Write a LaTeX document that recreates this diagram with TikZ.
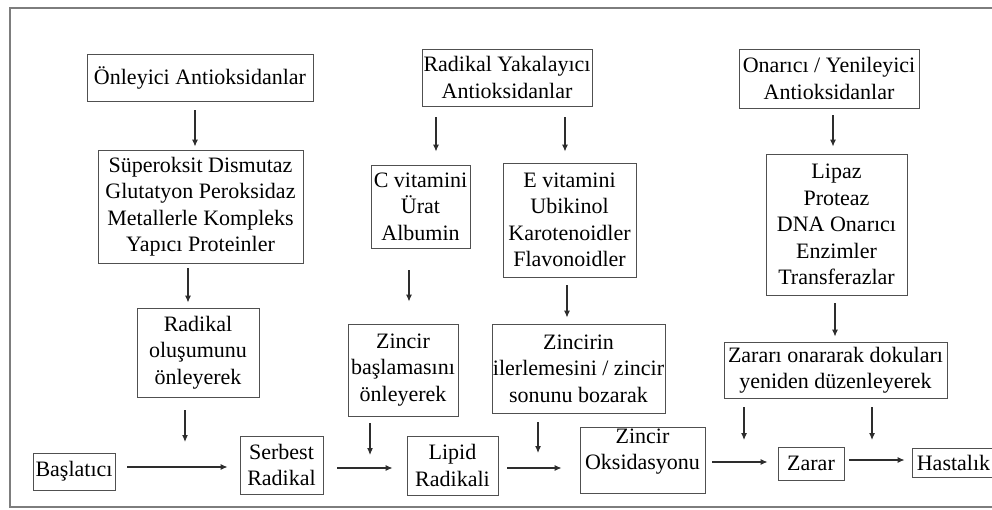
\documentclass[tikz,border=0pt]{standalone}
\usepackage{fontspec}
\setmainfont{Liberation Serif}
\usepackage{tikz}
\usetikzlibrary{arrows.meta}
\definecolor{boxgray}{RGB}{80,80,80}
\definecolor{arrgray}{RGB}{45,45,45}
\definecolor{framegray}{RGB}{125,125,125}
\newcommand{\boxfont}{\fontsize{22}{26.5}\selectfont}
\tikzset{
  stepbox/.style={draw=boxgray,line width=0.9pt,align=center,inner sep=1pt,font=\boxfont},
  arr/.style={-{Latex[length=7pt,width=6pt]},line width=1.1pt,draw=arrgray},
  outerframe/.style={line width=1.8pt,draw=framegray}
}

\begin{document}
\begin{tikzpicture}[x=1pt,y=-1pt]
\useasboundingbox (0,0) rectangle (992,509);

\draw[outerframe] (995,8) -- (10,8) -- (10,507) -- (995,507);

% antioxidant groups
\node[stepbox,minimum width=226pt,minimum height=47pt] (onl) at (200,77.5) {Önleyici Antioksidanlar};
\node[stepbox,minimum width=170pt,minimum height=57pt] (ry) at (507,77.5) {Radikal Yakalayıcı\\Antioksidanlar};
\node[stepbox,minimum width=180pt,minimum height=59pt] (oy) at (829,78.5) {Onarıcı / Yenileyici\\Antioksidanlar};

% members
\node[stepbox,minimum width=205pt,minimum height=113pt] (sod) at (200.5,206.5)
  {Süperoksit Dismutaz\\Glutatyon Peroksidaz\\Metallerle Kompleks\\Yapıcı Proteinler};
\node[stepbox,minimum width=99pt,minimum height=83pt] (cv) at (420.5,206.5) {C vitamini\\Ürat\\Albumin};
\node[stepbox,minimum width=133pt,minimum height=114pt] (ev) at (569.5,220)
  {E vitamini\\Ubikinol\\Karotenoidler\\Flavonoidler};
\node[stepbox,minimum width=141pt,minimum height=141pt] (lp) at (836.5,224.5)
  {Lipaz\\Proteaz\\DNA Onarıcı\\Enzimler\\Transferazlar};

% modes of action
\node[stepbox,minimum width=122pt,minimum height=89pt] (ro) at (198,352.5) {Radikal\\oluşumunu\\önleyerek};
\node[stepbox,minimum width=110pt,minimum height=92pt] (zb) at (403,370) {Zincir\\başlamasını\\önleyerek};
\node[stepbox,minimum width=173pt,minimum height=89pt,inner xsep=0pt] (zi) at (578.5,368.5)
  {Zincirin\\ilerlemesini / zincir\\sonunu bozarak};
\node[stepbox,minimum width=223pt,minimum height=56pt] (zr) at (835.5,370)
  {Zararı onararak dokuları\\yeniden düzenleyerek};

% main chain
\node[stepbox,minimum width=82pt,minimum height=37pt] (bas) at (74,471.5) {Başlatıcı};
\node[stepbox,minimum width=83pt,minimum height=58pt] (sr) at (281.5,465) {Serbest\\Radikal};
\node[stepbox,minimum width=91pt,minimum height=59pt] (lr) at (452.5,465.5) {Lipid\\Radikali};
\node[stepbox,minimum width=125pt,minimum height=55pt,text depth=23pt] (zo) at (642.5,460.5) {Zincir\\Oksidasyonu};
\node[stepbox,minimum width=66pt,minimum height=33pt] (za) at (811,463.5) {Zarar};
\node[stepbox,minimum width=83pt,minimum height=29pt,inner ysep=0pt] (ha) at (953.5,462.5) {Hastalık};

\coordinate (ro-end) at (185,442);
\coordinate (zb-end) at (370,455);
\coordinate (zi-end) at (538,453);
\coordinate (zr-end1) at (744,440);
\coordinate (zr-end2) at (872,440);

% vertical arrows
\draw[arr,shorten <=9pt,shorten >=3pt] ([xshift=-5pt]onl.south) -- ([xshift=-5pt]onl.south |- sod.north);
\draw[arr,shorten <=5pt,shorten >=5pt] ([xshift=-12.5pt]sod.south) -- ([xshift=-12.5pt]sod.south |- ro.north);
\draw[arr,shorten <=13pt] (ro.south -| ro-end) -- (ro-end);
\draw[arr,shorten <=11pt,shorten >=13pt] ([xshift=-71pt]ry.south) -- ([xshift=-71pt]ry.south |- cv.north);
\draw[arr,shorten <=11pt,shorten >=11pt] ([xshift=58pt]ry.south) -- ([xshift=58pt]ry.south |- ev.north);
\draw[arr,shorten <=22pt,shorten >=22pt] ([xshift=-11.5pt]cv.south) -- ([xshift=-11.5pt]cv.south |- zb.north);
\draw[arr,shorten <=8pt,shorten >=6pt] ([xshift=-2.5pt]ev.south) -- ([xshift=-2.5pt]ev.south |- zi.north);
\draw[arr,shorten <=7pt] (zb.south -| zb-end) -- (zb-end);
\draw[arr,shorten <=9pt] (zi.south -| zi-end) -- (zi-end);
\draw[arr,shorten <=7pt,shorten >=7pt] ([xshift=4pt]oy.south) -- ([xshift=4pt]oy.south |- lp.north);
\draw[arr,shorten <=8pt,shorten >=5pt] ([xshift=-1.5pt]lp.south) -- ([xshift=-1.5pt]lp.south |- zr.north);
\draw[arr,shorten <=9pt] (zr.south -| zr-end1) -- (zr-end1);
\draw[arr,shorten <=9pt] (zr.south -| zr-end2) -- (zr-end2);

% horizontal arrows
\draw[arr,shorten <=12pt,shorten >=12pt] ([yshift=4.5pt]bas.east) -- ([yshift=4.5pt]bas.east -| sr.west);
\draw[arr,shorten <=14pt,shorten >=14pt] ([yshift=-3pt]sr.east) -- ([yshift=-3pt]sr.east -| lr.west);
\draw[arr,shorten <=9pt,shorten >=18pt] ([yshift=-2.5pt]lr.east) -- ([yshift=-2.5pt]lr.east -| zo.west);
\draw[arr,shorten <=7pt,shorten >=10pt] ([yshift=-1.5pt]zo.east) -- ([yshift=-1.5pt]zo.east -| za.west);
\draw[arr,shorten <=5pt,shorten >=7pt] ([yshift=3.5pt]za.east) -- ([yshift=3.5pt]za.east -| ha.west);
\end{tikzpicture}
\end{document}
